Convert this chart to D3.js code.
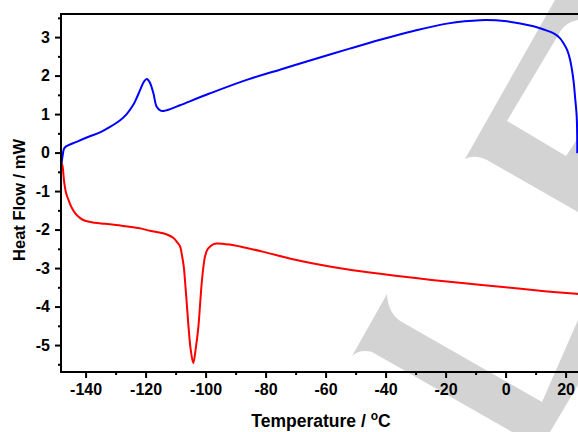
<!DOCTYPE html>
<html>
<head>
<meta charset="utf-8">
<script src="https://cdn.jsdelivr.net/npm/d3@7"></script>
<style>
  body { margin: 0; background: #fff; }
  svg { display: block; }
  text { font-family: Arial, "Liberation Sans", sans-serif; font-weight: bold; }
</style>
</head>
<body>
<div id="chart"></div>
<script>
// DSC trace, cooling (red) and heating (blue)
var heatT = [-148.0, -147.6, -147.2, -146.5, -143, -139, -135, -131.8, -128.5, -126.3, -124.1, -122.8,
  -121.8, -120.5, -119.6, -118.6, -117.4, -116.3, -115, -113.5, -111.8, -108.5, -98.5, -86.3, -75,
  -64.1, -52, -41.8, -30.7, -19.6, -8.5, 0.4, 9.3, 13, 15.9, 18, 19.3, 20.6, 21.5, 22.6, 23.2, 23.7, 23.9];
var heatV = [-0.27, -0.05, 0.1, 0.16, 0.28, 0.41, 0.53, 0.67, 0.84, 1.0, 1.24, 1.45,
  1.63, 1.85, 1.91, 1.82, 1.54, 1.19, 1.09, 1.09, 1.13, 1.23, 1.54, 1.89, 2.16,
  2.42, 2.70, 2.93, 3.16, 3.35, 3.44, 3.41, 3.28, 3.19, 3.10, 2.98, 2.84, 2.65, 2.41, 1.89, 1.4, 0.94, -0.02];

var coolT = [-148, -147.7, -147.1, -146.5, -145.7, -144.7, -143.5, -142, -140.2, -137, -133.5, -128,
  -122.4, -118.5, -114.6, -112.5, -110.7, -109.6, -108.5, -107.9, -107.3, -106.8, -106.2, -105.7,
  -105, -104.1, -103.3, -102.4, -101.8, -101.3, -100.7, -100.2, -99.4, -98.5, -97.3, -96.3, -92,
  -88.5, -80.7, -72, -64.1, -53, -41.8, -30, -19.6, -8, 2.6, 13, 23.7, 26];
var coolV = [-0.27, -0.35, -0.79, -1.05, -1.23, -1.42, -1.57, -1.69, -1.77, -1.82, -1.85, -1.90,
  -1.96, -2.03, -2.09, -2.14, -2.22, -2.32, -2.44, -2.66, -2.95, -3.39, -4.0, -4.52,
  -5.1, -5.47, -5.1, -4.52, -3.9, -3.39, -2.95, -2.70, -2.52, -2.44, -2.38, -2.36, -2.39,
  -2.44, -2.58, -2.75, -2.88, -3.03, -3.15, -3.26, -3.35, -3.44, -3.52, -3.60, -3.67, -3.69];

var xTicks = [-140, -120, -100, -80, -60, -40, -20, 0, 20];
var xMinor = [-130, -110, -90, -70, -50, -30, -10, 10];
var yTicks = [-5, -4, -3, -2, -1, 0, 1, 2, 3];
var yMinor = [-5.5, -4.5, -3.5, -2.5, -1.5, -0.5, 0.5, 1.5, 2.5, 3.5];

var width = 578, height = 432;
var plotLeft = 61, plotTop = 14, plotBottom = 372;

var svg = d3.select("#chart").append("svg")
  .attr("width", width)
  .attr("height", height);

var x = d3.scaleLinear().domain([-148.2, 30]).range([plotLeft, plotLeft + 178.2 * 3]);
var y = d3.scaleLinear().domain([-5.7, 3.6]).range([plotBottom, plotTop]);

// watermark in the background
var wm = svg.append("g").attr("fill", "#d3d3d3").attr("fill-rule", "evenodd");
wm.append("path").attr("d",
  "M555,0 L578,0 L578,212 L487,160 Q474,154 465,159 L555,0 Z " +
  "M507,121 L566,156 L578,138 L578,20 Q566,22 560,32 Z");
wm.append("path").attr("d",
  "M387,294 Q388,314 402,322 L542,402 L578,320 L578,385 L550,432 L512,432 L372,352 Q360,349 352,356 Z");

var line = d3.line()
  .x(function(d) { return x(d[0]); })
  .y(function(d) { return y(d[1]); })
  .curve(d3.curveCatmullRom.alpha(0.5));

var plot = svg.append("g");
plot.append("path")
  .datum(d3.zip(coolT, coolV))
  .attr("fill", "none")
  .attr("stroke", "#ff0000")
  .attr("stroke-width", 2)
  .attr("d", line);
plot.append("path")
  .datum(d3.zip(heatT, heatV))
  .attr("fill", "none")
  .attr("stroke", "#0000ff")
  .attr("stroke-width", 2)
  .attr("d", line);

// axes
var fmt = function(d) { return String(d); };
var xAxis = svg.append("g")
  .attr("transform", "translate(0," + plotBottom + ")")
  .call(d3.axisBottom(x).tickValues(xTicks).tickSize(6).tickPadding(6).tickFormat(fmt));
var xAxisMinor = svg.append("g")
  .attr("transform", "translate(0," + plotBottom + ")")
  .call(d3.axisBottom(x).tickValues(xMinor).tickSize(3).tickFormat(""));
var yAxis = svg.append("g")
  .attr("transform", "translate(" + plotLeft + ",0)")
  .call(d3.axisLeft(y).tickValues(yTicks).tickSize(6).tickPadding(5).tickFormat(fmt));
var yAxisMinor = svg.append("g")
  .attr("transform", "translate(" + plotLeft + ",0)")
  .call(d3.axisLeft(y).tickValues(yMinor).tickSize(3).tickFormat(""));

[xAxis, xAxisMinor, yAxis, yAxisMinor].forEach(function(g) {
  g.select(".domain").remove();
  g.selectAll(".tick line").attr("stroke", "#000").attr("stroke-width", 2);
  g.selectAll(".tick text").attr("fill", "#000").style("font-size", "16px");
});

// frame lines
svg.append("line").attr("x1", plotLeft).attr("x2", width).attr("y1", plotTop).attr("y2", plotTop)
  .attr("stroke", "#000").attr("stroke-width", 2);
svg.append("line").attr("x1", plotLeft).attr("x2", width).attr("y1", plotBottom).attr("y2", plotBottom)
  .attr("stroke", "#000").attr("stroke-width", 2);
svg.append("line").attr("x1", plotLeft).attr("x2", plotLeft).attr("y1", plotTop - 1).attr("y2", plotBottom + 1)
  .attr("stroke", "#000").attr("stroke-width", 2);

// titles
svg.append("text")
  .attr("transform", "translate(25,200) rotate(-90)")
  .attr("text-anchor", "middle")
  .style("font-size", "16.5px")
  .text("Heat Flow / mW");

var xt = svg.append("text")
  .attr("x", 321)
  .attr("y", 427)
  .attr("text-anchor", "middle")
  .style("font-size", "17.5px");
xt.append("tspan").text("Temperature / ");
xt.append("tspan").attr("dy", -7).style("font-size", "12px").text("o");
xt.append("tspan").attr("dy", 7).text("C");
</script>
</body>
</html>
